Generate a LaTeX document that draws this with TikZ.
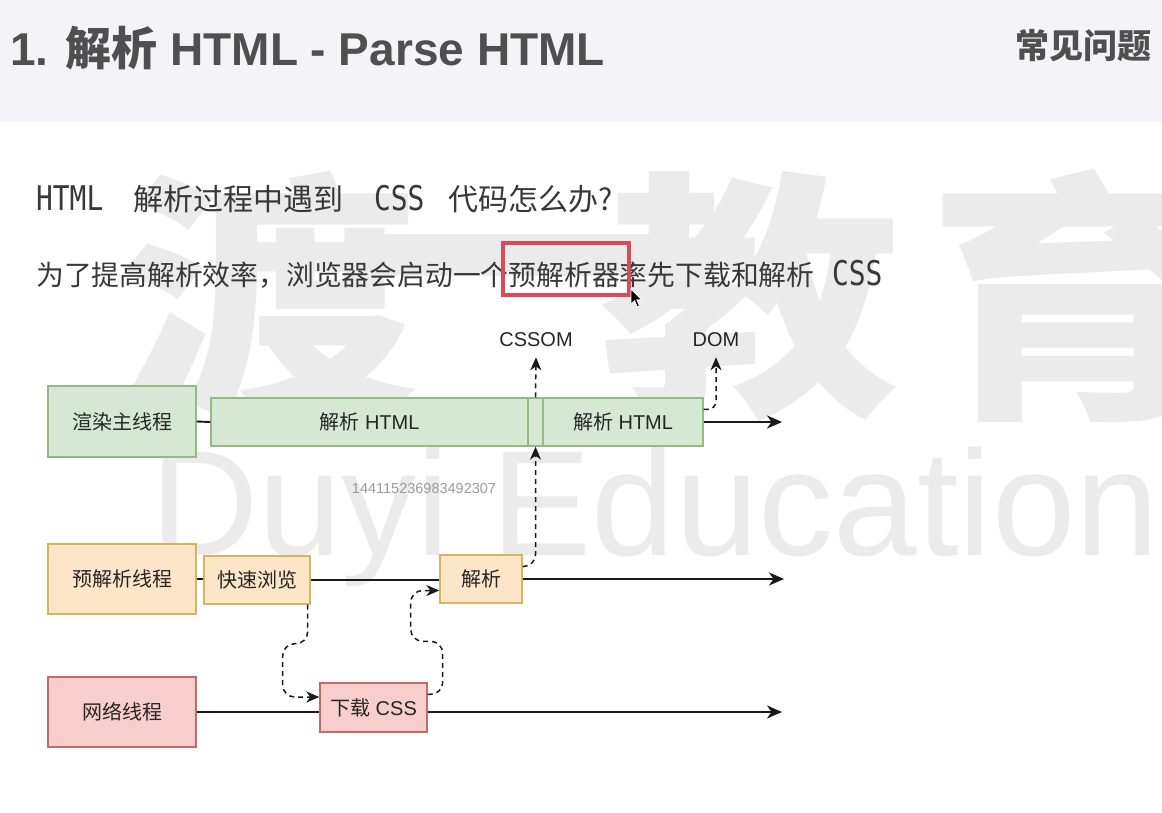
\documentclass[tikz,border=0pt]{standalone}
\usepackage{fontspec}
\setmainfont{Liberation Sans}
\newfontfamily\cjk{Noto Sans CJK SC}
\newfontfamily\mono{DejaVu Sans Mono}
\usetikzlibrary{arrows.meta,calc}

\definecolor{headbg}{HTML}{F4F3F8}
\definecolor{titlegray}{HTML}{4F4F4F}
\definecolor{textgray}{HTML}{383838}
\definecolor{wmgray}{HTML}{EBEBEB}
\definecolor{gfill}{HTML}{D5E8D4}
\definecolor{gline}{HTML}{93BA80}
\definecolor{ofill}{HTML}{FDE5C8}
\definecolor{oline}{HTML}{D8B45E}
\definecolor{rfill}{HTML}{F8CECC}
\definecolor{rline}{HTML}{C46B67}
\definecolor{markred}{HTML}{D94A5C}
\definecolor{numgray}{HTML}{9B9B9B}

\tikzset{
  box/.style={draw, line width=1.4pt, inner sep=0pt, text=black!85,
              font=\fontsize{20}{24}\selectfont},
  gbox/.style={box, fill=gfill, draw=gline},
  obox/.style={box, fill=ofill, draw=oline},
  rbox/.style={box, fill=rfill, draw=rline},
  tag/.style={inner sep=0pt, text=black!85, font=\fontsize{20}{24}\selectfont},
  flow/.style={line width=1.9pt, black!90},
  flowarr/.style={flow, -{Stealth[length=15pt,width=13pt,inset=4.5pt]}},
  hint/.style={line width=1.5pt, black!90, dash pattern=on 5pt off 4pt,
               -{Stealth[length=13pt,width=11pt,inset=4pt]}},
  wmchar/.style={inner sep=0pt, text=wmgray, xscale=1.15,
                 font=\cjk\bfseries\fontsize{262}{262}\selectfont},
  line1/.style={anchor=base west, inner sep=0pt, text=textgray},
  monotext/.style={line1, xscale=0.82, font=\mono\fontsize{34}{34}\selectfont},
}

\begin{document}
\begin{tikzpicture}[x=1pt,y=-1pt]
\useasboundingbox (0,0) rectangle (1162,812);
\fill[white] (0,0) rectangle (1162,812);
\fill[headbg] (0,0) rectangle (1162,122);

% background watermark
\node[wmchar] (wm1) at (268,296) {渡};
\node[wmchar] (wm2) at (515,296) {一};
\node[wmchar] (wm3) at (750,296) {教};
\node[wmchar] (wm4) at (1078,296) {育};
\node[anchor=base west, inner sep=0pt, text=wmgray,
      font=\fontsize{150}{150}\selectfont] (wm5) at (150,555) {Duyi Education};

% header
\node[anchor=base west, inner sep=0pt, text=titlegray,
      font=\bfseries\fontsize{46}{46}\selectfont] (title) at (10,65)
      {1. {\cjk 解析} HTML - Parse HTML};
\node[anchor=base east, inner sep=0pt, text=titlegray,
      font=\cjk\bfseries\fontsize{34}{34}\selectfont] (faq) at (1152,58) {常见问题};

% question and answer
\node[monotext] (q1) at (36,210) {HTML};
\node[line1, font=\cjk\fontsize{30}{30}\selectfont] (q2) at (133,210) {解析过程中遇到};
\node[monotext] (q3) at (374,210) {CSS};
\node[line1, font=\cjk\fontsize{30}{30}\selectfont] (q4) at (448,210) {代码怎么办?};

\node[line1, font=\cjk\fontsize{27.8}{28}\selectfont] (a1) at (36,285)
      {为了提高解析效率，浏览器会启动一个预解析器率先下载和解析};
\node[monotext] (a2) at (832,285) {CSS};
\draw[markred, line width=4pt] (503,243) rectangle (629,295);

% mouse pointer
\filldraw[fill=black, draw=white, line width=0.8pt, shift={(631,289)}, scale=0.9]
  (0,0) -- (0,17) -- (4,13) -- (7,20) -- (9.5,19) -- (6.5,12) -- (12,12) -- cycle;

% render main thread
\node[gbox, minimum width=148pt, minimum height=71pt] (main) at (122,421.5) {\cjk 渲染主线程};
\node[gbox, minimum width=317pt, minimum height=48pt] (html1) at (369.5,422) {{\cjk 解析} HTML};
\node[gbox, minimum width=15pt, minimum height=48pt] (mid) at (535.5,422) {};
\node[gbox, minimum width=160pt, minimum height=48pt] (html2) at (623,422) {{\cjk 解析} HTML};
\coordinate (mainend) at (782,422);

\node[tag] (cssom) at (536,340) {CSSOM};
\node[tag] (dom) at (716,340) {DOM};

\node[inner sep=0pt, text=numgray, font=\fontsize{14.5}{15}\selectfont] (num) at (424,488)
      {144115236983492307};

% preload scanner thread
\node[obox, minimum width=148pt, minimum height=70pt] (pre) at (122,579) {\cjk 预解析线程};
\node[obox, minimum width=106pt, minimum height=48pt] (scan) at (257,580) {\cjk 快速浏览};
\node[obox, minimum width=82pt, minimum height=48pt] (parse) at (481,579) {\cjk 解析};
\coordinate (preend) at (784,579);

% network thread
\node[rbox, minimum width=148pt, minimum height=70pt] (net) at (122,712) {\cjk 网络线程};
\node[rbox, minimum width=107pt, minimum height=49pt] (dl) at (373.5,707.5) {{\cjk 下载} CSS};
\coordinate (netend) at (782,712);

% timelines
\draw[flow] (main.east) -- (html1.west);
\draw[flowarr] (html2.east) -- (mainend);
\draw[flow] (pre.east) -- (pre.east -| scan.west);
\draw[flow] (scan.east) -- (scan.east -| parse.west);
\draw[flowarr] (parse.east) -- (preend);
\draw[flow] (net.east) -- (net.east -| dl.west);
\draw[flowarr] (net.east -| dl.east) -- (netend);

% hand-offs between threads
\draw[hint] (mid.north) -- ($(cssom.south)+(0,10)$);
\draw[hint, rounded corners=8pt] ($(html2.north east)+(0,12)$) -| ($(dom.south)+(0,10)$);
\draw[hint, rounded corners=12pt] ($(parse.east)+(0,-12.5)$) -| (mid.south);
\draw[hint, rounded corners=12pt] ($(scan.south east)+(-3,0)$) -- ++(0,39) -- ++(-25,0)
      |- ($(dl.west)+(0,-10.5)$);
\draw[hint, rounded corners=12pt] ($(dl.north east)+(0,12)$) -- ++(15,0) -- ++(0,-53)
      -- ++(-32,0) |- ($(parse.west)+(0,11.5)$);
\end{tikzpicture}
\end{document}
